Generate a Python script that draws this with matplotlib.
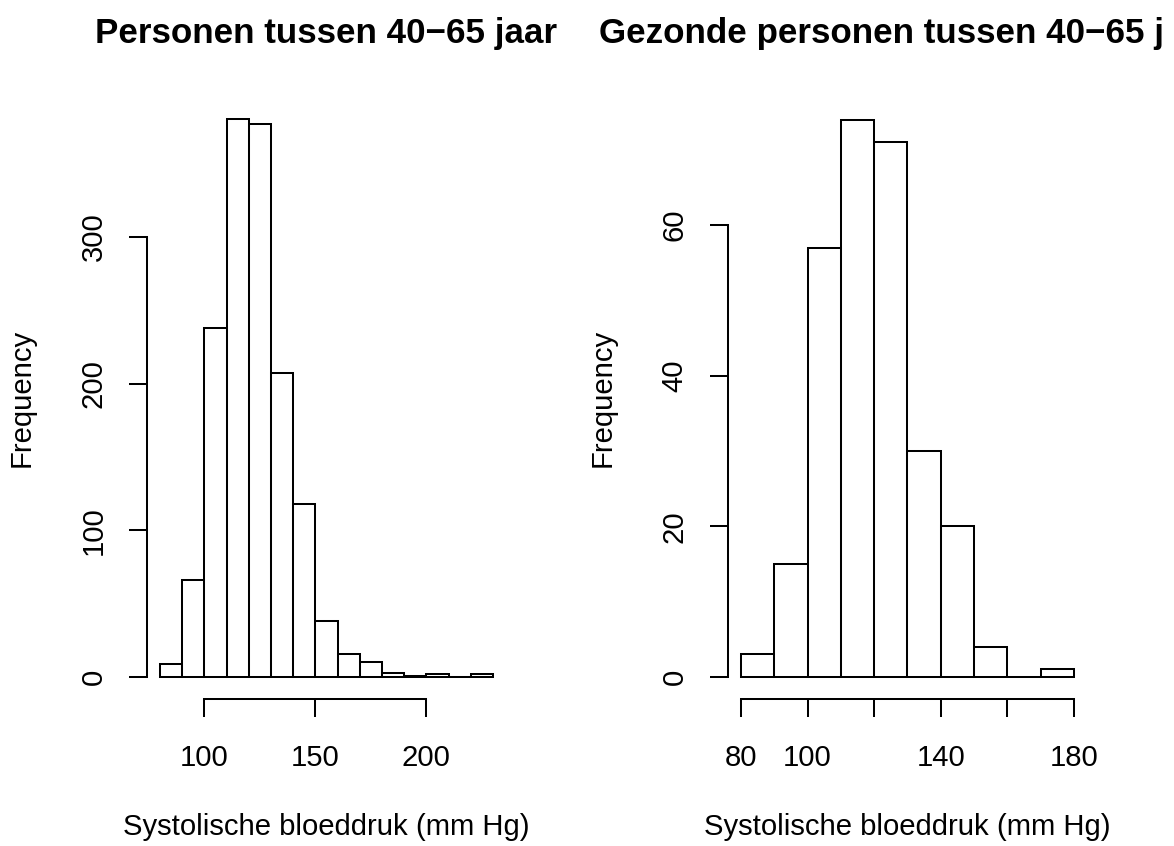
import numpy as np
import matplotlib
matplotlib.use("Agg")
import matplotlib.pyplot as plt
from matplotlib.transforms import Bbox, TransformedBbox

plt.rcParams['font.family'] = ['Liberation Sans', 'DejaVu Sans']

# Histogram counts, 10 mm Hg bins
all_edges = np.arange(80, 231, 10)
all_counts = [9, 66, 238, 380, 377, 207, 118, 38, 16, 10, 3, 1, 2, 0, 2]
all_xticks = [100, 150, 200]
all_xticklabels = ["100", "150", "200"]
all_yticks = [0, 100, 200, 300]

healthy_edges = np.arange(80, 181, 10)
healthy_counts = [3, 15, 57, 74, 71, 30, 20, 4, 0, 1]
healthy_xticks = [80, 100, 120, 140, 160, 180]
healthy_xticklabels = ["80", "100", "", "140", "", "180"]
healthy_yticks = [0, 20, 40, 60]

titles = ["Personen tussen 40\u221265 jaar", "Gezonde personen tussen 40\u221265 jaar"]
xlabel = "Systolische bloeddruk (mm Hg)"
ylabel = "Frequency"

W, H = 1174, 846
fig = plt.figure(figsize=(W / 100, H / 100), dpi=100)

LW = 1.45
FS = 21.1
TITLE_FS = 25.2

TOP_PX, BOTTOM_PX, WIDTH_PX = 97.2, 699.3, 359.6

# Glyphs that would run past the right edge are dropped whole
title_clip = TransformedBbox(Bbox([[0, 0], [1162 / W, 1]]), fig.transFigure)


def panel(left_px, edges, counts, xticks, xticklabels, yticks, title):
    height_px = BOTTOM_PX - TOP_PX
    ax = fig.add_axes([left_px / W, 1 - BOTTOM_PX / H, WIDTH_PX / W, height_px / H])
    ax.bar(edges[:-1], counts, width=np.diff(edges), align='edge',
           fill=False, edgecolor='black', linewidth=LW)
    xr = edges[-1] - edges[0]
    ax.set_xlim(edges[0] - 0.04 * xr, edges[-1] + 0.04 * xr)
    ymax = max(counts)
    ax.set_ylim(-0.04 * ymax, ymax * 1.04)

    for s in ['top', 'right']:
        ax.spines[s].set_visible(False)
    ax.spines['left'].set_bounds(yticks[0], yticks[-1])
    ax.spines['bottom'].set_bounds(xticks[0], xticks[-1])
    for s in ['left', 'bottom']:
        ax.spines[s].set_linewidth(LW)

    ax.set_xticks(xticks)
    ax.set_xticklabels(xticklabels)
    ax.set_yticks(yticks)
    ax.set_yticklabels([str(v) for v in yticks], rotation=90, va='center')
    ax.tick_params(axis='both', length=13, width=LW, labelsize=FS, direction='out')
    ax.tick_params(axis='x', pad=19)
    ax.tick_params(axis='y', pad=15)

    ax.set_xlabel(xlabel, fontsize=FS)
    ax.xaxis.label.set_va('center')
    ax.xaxis.set_label_coords(0.5, -(827 - BOTTOM_PX) / height_px)
    ax.set_ylabel(ylabel, fontsize=FS)
    ax.yaxis.label.set_va('center')
    ax.yaxis.set_label_coords(-124.7 / WIDTH_PX, 0.5)

    t = ax.text(0.5, 1 + (TOP_PX - 43) / height_px, title,
                transform=ax.transAxes, ha='center', va='baseline',
                fontsize=TITLE_FS, fontweight='bold')
    t.set_clip_box(title_clip)
    t.set_clip_on(True)
    ax.patch.set_visible(False)
    return ax


panel(146.7, all_edges, all_counts, all_xticks, all_xticklabels, all_yticks, titles[0])
panel(727.7, healthy_edges, healthy_counts, healthy_xticks, healthy_xticklabels, healthy_yticks, titles[1])

fig.savefig("out.png", dpi=100, facecolor='white')
